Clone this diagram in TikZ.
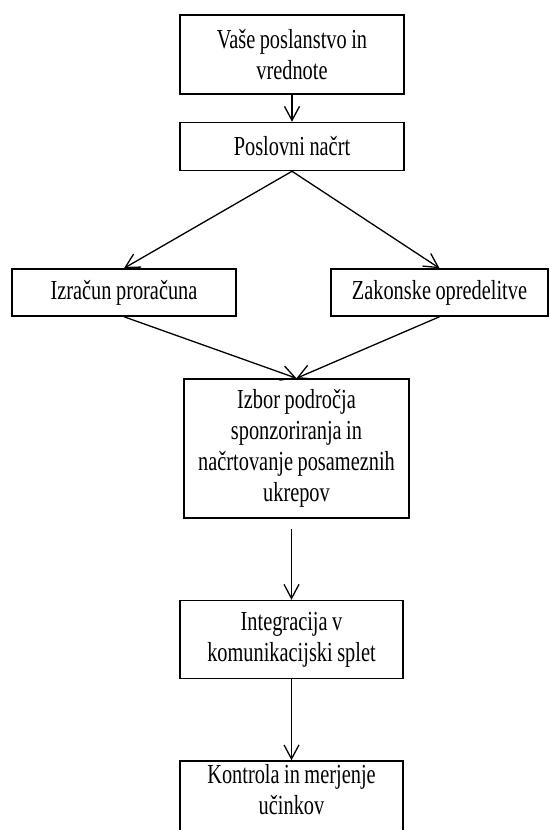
\documentclass[tikz,border=0pt]{standalone}
\usepackage{fontspec}
\setmainfont[FakeStretch=0.74]{Liberation Serif}
\usetikzlibrary{arrows.meta,positioning}
\tikzstyle{bt} = [rectangle, draw, line width=1.5pt, inner sep=0pt,
    text width=224pt, text centered, minimum height=47pt,
    font=\fontsize{27.5}{31}\selectfont,
    execute at begin node={\spaceskip=4.5pt\relax}]

\begin{document}
\begin{tikzpicture}[->,>={Straight Barb[length=14pt,width=15pt]},
                    line width=1.3pt,x=1pt,y=1pt]

  \useasboundingbox (0,0) rectangle (549,-830);
  \clip (0,0) rectangle (549,-830);

  \node[bt,minimum height=79pt]                 (1) at (292,-54.5)                 {Vaše poslanstvo in\\ vrednote};
  \node[bt,minimum height=48pt]                 (2) [below=27pt of 1]              {Poslovni načrt};
  \node[bt]                                     (3) [below=97pt of 2,xshift=-168pt] {Izračun proračuna};
  \node[bt,text width=217pt]                    (4) [below=97pt of 2,xshift=147.5pt] {Zakonske opredelitve};
  \node[bt,text width=225pt,minimum height=139pt] (5) [below=207pt of 2,xshift=4.5pt] {Izbor področja\\ sponzoriranja in\\ načrtovanje posameznih\\ ukrepov};
  \node[bt,text width=223pt,minimum height=78pt]  (6) [below=81pt of 5,xshift=-5pt]  {Integracija v\\ komunikacijski splet};
  \node[bt,text width=223pt,minimum height=79pt,
        execute at end node={\par\vspace*{22pt}}] (7) [below=81pt of 6]             {Kontrola in merjenje\\ učinkov};

  \path (1) edge (2)
        (2.south) edge (3.north)
        (2.south) edge (4.north)
        (3.south) edge (5.north)
        (4.south) edge (5.north)
        (6.north |- 5.south) edge [shorten <=10pt] (6.north)
        (6) edge (7);
%  (5) edge (6)
\end{tikzpicture}
\end{document}
